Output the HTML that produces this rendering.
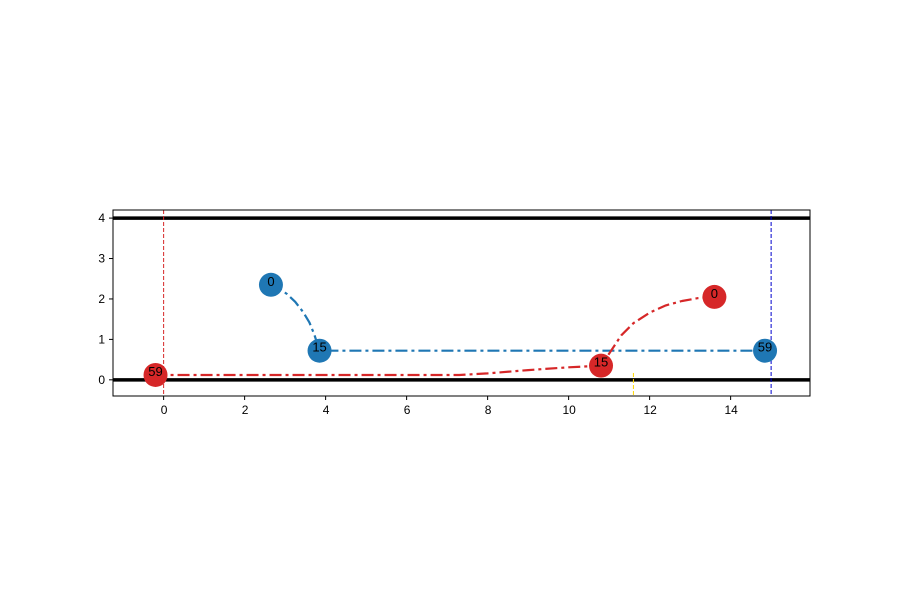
<!DOCTYPE html>
<html><head><meta charset="utf-8"><style>
body{margin:0;background:#fff}
text{font-family:"Liberation Sans","DejaVu Sans",sans-serif}
</style></head><body>
<svg id="chart" width="900" height="600" xmlns="http://www.w3.org/2000/svg"></svg>
<script>
const blueX=[2.65,2.85,3.05,3.25,3.45,3.6,3.72,3.85,14.85];
const blueY=[2.35,2.26,2.12,1.93,1.67,1.42,1.12,0.72,0.72];
const blueMarkX=[2.65,3.85,14.85];
const blueMarkY=[2.35,0.72,0.72];
const blueLabels=["0","15","59"];
const redX=[13.6,13.2,12.8,12.4,12.0,11.6,11.3,11.05,10.8,10.0,9.0,8.0,7.3,-0.2];
const redY=[2.05,2.02,1.95,1.84,1.66,1.4,1.1,0.72,0.35,0.31,0.24,0.16,0.12,0.12];
const redMarkX=[13.6,10.8,-0.2];
const redMarkY=[2.05,0.35,0.12];
const redLabels=["0","15","59"];
const xTicks=[0,2,4,6,8,10,12,14];
const yTicks=[0,1,2,3,4];
const hLines=[0,4];
const redVLine=0, blueVLine=15, yellowVLine=11.6;

const L=113,R=810,T=210,B=396;
const xMin=-1.25,xMax=15.96,yMin=-0.4,yMax=4.2;
const sx=v=>L+(v-xMin)/(xMax-xMin)*(R-L);
const sy=v=>B-(v-yMin)/(yMax-yMin)*(B-T);
const svg=document.getElementById('chart');
const NS='http://www.w3.org/2000/svg';
function mk(tag,attrs,name,parent){const e=document.createElementNS(NS,tag);for(const k in attrs)e.setAttribute(k,attrs[k]);


(parent||svg).appendChild(e);return e;}
const defs=mk('clipPath',{id:'clip'},'clip-region');
mk('rect',{x:L,y:T,width:R-L,height:B-T},'clip-rect',defs);
const g=mk('g',{'clip-path':'url(#clip)'},'plot-area');
hLines.forEach(v=>mk('line',{x1:L,x2:R,y1:sy(v),y2:sy(v),stroke:'#000','stroke-width':3.5},'hline-'+v,g));
mk('line',{x1:sx(redVLine),x2:sx(redVLine),y1:T,y2:B,stroke:'#d62728','stroke-width':1,'stroke-dasharray':'4,2'},'red-vline',g);
mk('line',{x1:sx(blueVLine),x2:sx(blueVLine),y1:T,y2:B,stroke:'#0000cc','stroke-width':1,'stroke-dasharray':'4,2'},'blue-vline',g);
mk('line',{x1:sx(yellowVLine),x2:sx(yellowVLine),y1:sy(0.17),y2:B,stroke:'#ffd700','stroke-width':1,'stroke-dasharray':'4,2'},'yellow-vline',g);
function path(xs,ys){return xs.map((x,i)=>(i?'L':'M')+sx(x).toFixed(1)+','+sy(ys[i]).toFixed(1)).join('');}
mk('path',{d:path(blueX,blueY),fill:'none',stroke:'#1f77b4','stroke-width':2.2,'stroke-linejoin':'round','stroke-dasharray':'12,4,3,4'},'blue-trajectory',g);
mk('path',{d:path(redX,redY),fill:'none',stroke:'#d62728','stroke-width':2.2,'stroke-linejoin':'round','stroke-dasharray':'12,4,3,4'},'red-trajectory',g);
function marks(xs,ys,labs,col,nm){xs.forEach((x,i)=>{mk('circle',{cx:sx(x),cy:sy(ys[i]),r:12,fill:col},nm+'-marker-'+labs[i],g);
const t=mk('text',{x:sx(x),y:sy(ys[i])+1,'text-anchor':'middle','font-size':13,fill:'#000'},nm+'-label-'+labs[i],g);t.textContent=labs[i];});}
marks(blueMarkX,blueMarkY,blueLabels,'#1f77b4','blue');
marks(redMarkX,redMarkY,redLabels,'#d62728','red');
mk('rect',{x:L,y:T,width:R-L,height:B-T,fill:'none',stroke:'#000','stroke-width':1},'axes-frame');
xTicks.forEach(v=>{mk('line',{x1:sx(v),x2:sx(v),y1:B,y2:B+4,stroke:'#000'},'x-tick-'+v);
const t=mk('text',{x:sx(v)+0.5,y:B+18,'text-anchor':'middle','font-size':12},'x-tick-label-'+v);t.textContent=v;});
yTicks.forEach(v=>{mk('line',{x1:L-4,x2:L,y1:sy(v),y2:sy(v),stroke:'#000'},'y-tick-'+v);
const t=mk('text',{x:L-8,y:sy(v)+4,'text-anchor':'end','font-size':12},'y-tick-label-'+v);t.textContent=v;});
</script>
</body></html>
